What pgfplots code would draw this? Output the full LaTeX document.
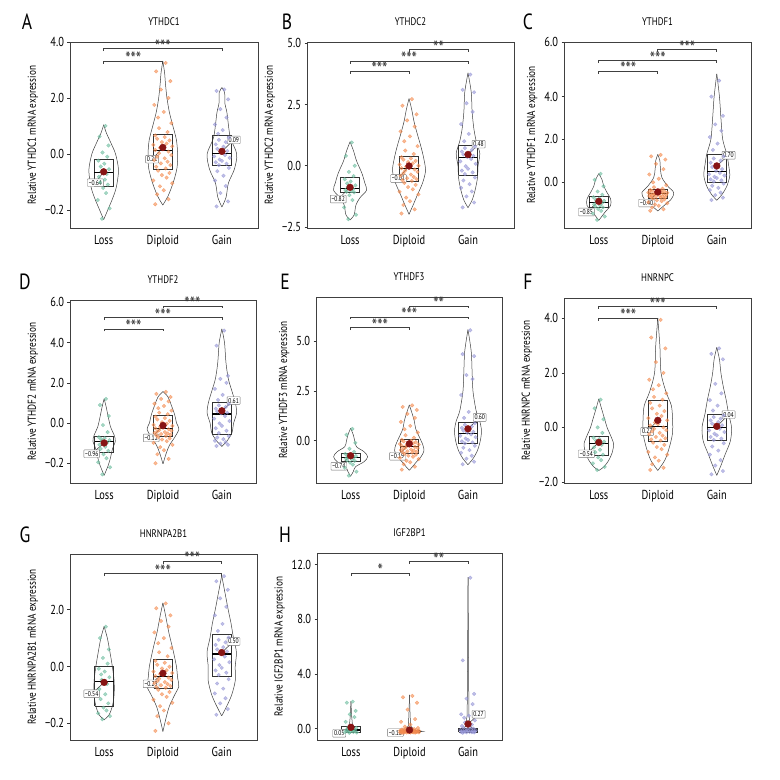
\documentclass[border=0pt]{standalone}
\usepackage{fontspec}
\setmainfont{PT Sans}[FakeStretch=0.8]
\usepackage{pgfplots}
\usepackage{pgfplotstable}
\pgfplotsset{compat=1.18}
\definecolor{cL}{RGB}{110,190,160}
\definecolor{cD}{RGB}{245,140,80}
\definecolor{cG}{RGB}{150,150,215}
\definecolor{mred}{RGB}{135,20,20}

\pgfplotstableread{
dx L D G
.03 1.0 3.25 2.3
-.07 0.62 2.95 2.25
.08 0.3 2.6 1.95
-.02 0.05 2.3 1.6
.06 -0.1 2.0 1.3
-.09 -0.24 1.75 1.05
.01 -0.35 1.5 0.85
-.05 -0.45 1.3 0.72
.09 -0.55 1.1 0.58
-.04 -0.63 0.92 0.5
.05 -0.72 0.78 0.42
-.08 -0.82 0.66 0.34
.02 -0.92 0.6 0.26
-.06 -1.02 0.54 0.18
.07 -1.1 0.48 0.1
-.01 -1.22 0.42 0.04
.04 -1.4 0.37 -0.04
-.10 -1.65 0.32 -0.09
.10 -1.95 0.27 -0.14
-.03 -2.32 0.22 -0.2
.00 nan 0.17 -0.25
-.08 nan 0.14 -0.3
.06 nan 0.08 -0.35
-.04 nan 0.02 -0.4
.09 nan -0.04 -0.5
-.06 nan -0.1 -0.62
.02 nan -0.16 -0.78
-.09 nan -0.22 -0.95
.05 nan -0.28 -1.15
-.02 nan -0.34 -1.4
.08 nan -0.4 -1.7
-.07 nan -0.46 -1.88
.03 nan -0.52 nan
-.05 nan -0.6 nan
.07 nan -0.68 nan
-.01 nan -0.76 nan
.04 nan -0.85 nan
-.10 nan -0.95 nan
.10 nan -1.05 nan
-.03 nan -1.16 nan
.01 nan -1.3 nan
-.06 nan -1.45 nan
.06 nan -1.62 nan
-.08 nan -1.8 nan
}\tA
\pgfplotstableread{
dx L D G
.03 0.95 2.72 3.72
-.07 0.4 2.45 3.1
.08 0.0 2.1 3.0
-.02 -0.25 1.85 2.55
.06 -0.42 1.6 2.2
-.09 -0.55 1.4 1.7
.01 -0.64 1.2 1.3
-.05 -0.72 1.0 1.0
.09 -0.8 0.8 0.78
-.04 -0.87 0.62 0.72
.05 -0.95 0.48 0.65
-.08 -0.99 0.35 0.58
.02 -1.03 0.3 0.52
-.06 -1.06 0.25 0.46
.07 -1.09 0.2 0.41
-.01 -1.2 0.15 0.36
.04 -1.4 0.1 0.28
-.10 -1.7 0.05 0.18
.10 -2.0 0.0 0.08
-.03 -2.18 -0.04 -0.02
.00 nan -0.07 -0.12
-.08 nan -0.1 -0.2
.06 nan -0.15 -0.27
-.04 nan -0.2 -0.34
.09 nan -0.25 -0.48
-.06 nan -0.3 -0.6
.02 nan -0.36 -0.75
-.09 nan -0.41 -0.9
.05 nan -0.46 -1.05
-.02 nan -0.51 -1.25
.08 nan -0.55 -1.5
-.07 nan -0.59 -1.7
.03 nan -0.62 nan
-.05 nan -0.7 nan
.07 nan -0.78 nan
-.01 nan -0.87 nan
.04 nan -0.96 nan
-.10 nan -1.06 nan
.10 nan -1.17 nan
-.03 nan -1.3 nan
.01 nan -1.45 nan
-.06 nan -1.6 nan
.06 nan -1.78 nan
-.08 nan -1.95 nan
}\tB
\pgfplotstableread{
dx L D G
.03 0.38 1.27 4.75
-.07 0.1 1.2 4.0
.08 -0.2 1.05 3.1
-.02 -0.45 0.85 2.7
.06 -0.6 0.6 2.4
-.09 -0.72 0.35 2.1
.01 -0.78 0.15 1.8
-.05 -0.84 -0.02 1.5
.09 -0.89 -0.15 1.2
-.04 -0.94 -0.25 1.1
.05 -1.0 -0.32 1.0
-.08 -1.05 -0.38 0.9
.02 -1.1 -0.4 0.8
-.06 -1.15 -0.42 0.7
.07 -1.19 -0.44 0.6
-.01 -1.27 -0.46 0.52
.04 -1.36 -0.48 0.42
-.10 -1.48 -0.5 0.36
.10 -1.62 -0.51 0.3
-.03 -1.78 -0.53 0.24
.00 nan -0.54 0.18
-.08 nan -0.55 0.12
.06 nan -0.57 0.07
-.04 nan -0.59 0.02
.09 nan -0.61 -0.08
-.06 nan -0.62 -0.18
.02 nan -0.64 -0.28
-.09 nan -0.66 -0.38
.05 nan -0.68 -0.5
-.02 nan -0.69 -0.62
.08 nan -0.71 -0.74
-.07 nan -0.72 -0.85
.03 nan -0.74 nan
-.05 nan -0.78 nan
.07 nan -0.82 nan
-.01 nan -0.86 nan
.04 nan -0.9 nan
-.10 nan -0.95 nan
.10 nan -1.0 nan
-.03 nan -1.06 nan
.01 nan -1.12 nan
-.06 nan -1.2 nan
.06 nan -1.28 nan
-.08 nan -1.35 nan
}\tC
\pgfplotstableread{
dx L D G
.03 1.2 1.55 4.6
-.07 0.9 1.45 3.85
.08 0.35 1.3 2.35
-.02 -0.1 1.2 2.2
.06 -0.45 1.08 2.0
-.09 -0.7 0.96 1.7
.01 -0.75 0.85 1.4
-.05 -0.8 0.74 1.15
.09 -0.85 0.62 0.95
-.04 -0.89 0.52 0.88
.05 -0.98 0.44 0.8
-.08 -1.08 0.32 0.72
.02 -1.18 0.25 0.65
-.06 -1.28 0.18 0.58
.07 -1.38 0.11 0.52
-.01 -1.55 0.04 0.48
.04 -1.75 -0.03 0.35
-.10 -1.95 -0.09 0.22
.10 -2.2 -0.14 0.1
-.03 -2.55 -0.19 -0.02
.00 nan -0.23 -0.14
-.08 nan -0.26 -0.26
.06 nan -0.31 -0.38
-.04 nan -0.35 -0.5
.09 nan -0.38 -0.65
-.06 nan -0.42 -0.72
.02 nan -0.45 -0.8
-.09 nan -0.49 -0.88
.05 nan -0.52 -0.95
-.02 nan -0.55 -1.02
.08 nan -0.58 -1.08
-.07 nan -0.61 -1.14
.03 nan -0.64 nan
-.05 nan -0.7 nan
.07 nan -0.76 nan
-.01 nan -0.82 nan
.04 nan -0.9 nan
-.10 nan -0.98 nan
.10 nan -1.08 nan
-.03 nan -1.2 nan
.01 nan -1.35 nan
-.06 nan -1.55 nan
.06 nan -1.78 nan
-.08 nan -2.0 nan
}\tD
\pgfplotstableread{
dx L D G
.03 0.6 1.78 5.55
-.07 0.3 1.7 4.35
.08 -0.1 1.55 4.25
-.02 -0.4 1.35 3.3
.06 -0.55 1.15 3.1
-.09 -0.66 0.95 2.3
.01 -0.7 0.75 1.45
-.05 -0.74 0.58 1.15
.09 -0.77 0.42 0.88
-.04 -0.8 0.28 0.8
.05 -0.85 0.15 0.72
-.08 -0.89 0.05 0.65
.02 -0.93 0.01 0.58
-.06 -0.97 -0.03 0.51
.07 -1.01 -0.07 0.45
-.01 -1.1 -0.1 0.4
.04 -1.2 -0.13 0.32
-.10 -1.35 -0.16 0.25
.10 -1.55 -0.19 0.18
-.03 -1.75 -0.22 0.11
.00 nan -0.24 0.04
-.08 nan -0.26 -0.03
.06 nan -0.31 -0.08
-.04 nan -0.34 -0.13
.09 nan -0.37 -0.25
-.06 nan -0.4 -0.35
.02 nan -0.44 -0.47
-.09 nan -0.47 -0.6
.05 nan -0.5 -0.75
-.02 nan -0.53 -0.9
.08 nan -0.56 -1.05
-.07 nan -0.58 -1.18
.03 nan -0.6 nan
-.05 nan -0.66 nan
.07 nan -0.7 nan
-.01 nan -0.75 nan
.04 nan -0.8 nan
-.10 nan -0.86 nan
.10 nan -0.92 nan
-.03 nan -1.0 nan
.01 nan -1.08 nan
-.06 nan -1.18 nan
.06 nan -1.3 nan
-.08 nan -1.45 nan
}\tE
\pgfplotstableread{
dx L D G
.03 1.02 3.95 2.9
-.07 0.7 3.3 2.7
.08 0.3 2.9 2.5
-.02 0.0 2.4 1.6
.06 -0.2 2.0 1.25
-.09 -0.38 1.75 1.0
.01 -0.43 1.55 0.8
-.05 -0.48 1.4 0.62
.09 -0.52 1.25 0.44
-.04 -0.56 1.12 0.38
.05 -0.64 1.02 0.32
-.08 -0.73 0.9 0.26
.02 -0.82 0.8 0.2
-.06 -0.91 0.7 0.14
.07 -1.0 0.6 0.08
-.01 -1.1 0.5 0.03
.04 -1.2 0.42 -0.05
-.10 -1.32 0.34 -0.11
.10 -1.45 0.26 -0.17
-.03 -1.56 0.18 -0.23
.00 nan 0.12 -0.29
-.08 nan 0.07 -0.35
.06 nan 0.0 -0.41
-.04 nan -0.05 -0.46
.09 nan -0.1 -0.58
-.06 nan -0.15 -0.7
.02 nan -0.2 -0.85
-.09 nan -0.25 -1.0
.05 nan -0.3 -1.2
-.02 nan -0.35 -1.4
.08 nan -0.4 -1.6
-.07 nan -0.44 -1.72
.03 nan -0.48 nan
-.05 nan -0.56 nan
.07 nan -0.64 nan
-.01 nan -0.72 nan
.04 nan -0.8 nan
-.10 nan -0.9 nan
.10 nan -1.0 nan
-.03 nan -1.1 nan
.01 nan -1.22 nan
-.06 nan -1.35 nan
.06 nan -1.48 nan
-.08 nan -1.56 nan
}\tF
\pgfplotstableread{
dx L D G
.03 1.4 2.22 3.18
-.07 1.0 2.05 3.0
.08 0.6 1.8 2.7
-.02 0.3 1.6 2.4
.06 0.1 1.4 2.1
-.09 -0.08 1.2 1.8
.01 -0.18 1.0 1.5
-.05 -0.28 0.82 1.25
.09 -0.38 0.65 1.02
-.04 -0.47 0.5 0.94
.05 -0.62 0.36 0.85
-.08 -0.8 0.2 0.76
.02 -0.98 0.13 0.68
-.06 -1.15 0.06 0.6
.07 -1.3 -0.01 0.53
-.01 -1.45 -0.07 0.47
.04 -1.55 -0.13 0.35
-.10 -1.65 -0.18 0.25
.10 -1.75 -0.23 0.15
-.03 -1.86 -0.27 0.05
.00 nan -0.31 -0.05
-.08 nan -0.34 -0.14
.06 nan -0.39 -0.22
-.04 nan -0.43 -0.3
.09 nan -0.47 -0.45
-.06 nan -0.51 -0.6
.02 nan -0.55 -0.78
-.09 nan -0.59 -0.95
.05 nan -0.62 -1.12
-.02 nan -0.66 -1.3
.08 nan -0.69 -1.5
-.07 nan -0.72 -1.7
.03 nan -0.75 nan
-.05 nan -0.82 nan
.07 nan -0.9 nan
-.01 nan -0.98 nan
.04 nan -1.07 nan
-.10 nan -1.17 nan
.10 nan -1.28 nan
-.03 nan -1.4 nan
.01 nan -1.55 nan
-.06 nan -1.75 nan
.06 nan -2.0 nan
-.08 nan -2.27 nan
}\tG
\pgfplotstableread{
dx L D G
.03 1.98 2.4 11.05
-.07 1.9 2.3 5.0
.08 1.3 1.9 2.55
-.02 1.05 1.4 2.2
.06 0.85 0.7 1.8
-.09 0.5 0.5 1.05
.01 0.2 0.3 0.95
-.05 0.1 0.15 0.8
.09 0.05 0.05 0.6
-.04 0.0 0.0 0.45
.05 -0.05 -0.03 0.3
-.08 -0.1 -0.05 0.2
.02 -0.13 -0.07 0.12
-.06 -0.16 -0.08 0.05
.07 -0.19 -0.1 0.0
-.01 -0.22 -0.11 -0.04
.04 -0.24 -0.12 -0.07
-.10 -0.26 -0.13 -0.1
.10 -0.28 -0.14 -0.12
-.03 -0.3 -0.15 -0.14
.00 nan -0.16 -0.16
-.08 nan -0.17 -0.18
.06 nan -0.18 -0.2
-.04 nan -0.19 -0.21
.09 nan -0.2 -0.22
-.06 nan -0.2 -0.23
.02 nan -0.21 -0.24
-.09 nan -0.22 -0.25
.05 nan -0.22 -0.26
-.02 nan -0.23 -0.27
.08 nan -0.23 -0.28
-.07 nan -0.24 -0.3
.03 nan -0.24 nan
-.05 nan -0.25 nan
.07 nan -0.25 nan
-.01 nan -0.26 nan
.04 nan -0.26 nan
-.10 nan -0.27 nan
.10 nan -0.27 nan
-.03 nan -0.28 nan
.01 nan -0.28 nan
-.06 nan -0.29 nan
.06 nan -0.29 nan
-.08 nan -0.3 nan
}\tH

\pgfplotsset{
  panel/.style={
    scale only axis, anchor=north west, clip=false,
    xtick={0,1,2}, xticklabels={Loss,Diploid,Gain},
    tick pos=left, tick align=outside,
    xtick style={draw=none}, ytick style={black!80, line width=0.6pt},
    major tick length=2.5pt,
    axis line style={black!75, line width=0.8pt},
    ticklabel style={font=\fontsize{13}{14}\selectfont},
    /pgf/number format/assume math mode=true,
    title style={font=\fontsize{11}{12}\selectfont, at={(0.5,1)}, anchor=base, yshift=11pt},
    ylabel style={font=\fontsize{11.5}{12}\selectfont},
    xticklabel style={yshift=-1pt},
  },
  vio/.style={black!75, line width=0.5pt, no markers},
  ptL/.style={only marks, mark=*, mark size=1.8pt, color=cL, opacity=0.6},
  ptD/.style={only marks, mark=*, mark size=1.8pt, color=cD, opacity=0.6},
  ptG/.style={only marks, mark=*, mark size=1.8pt, color=cG, opacity=0.6},
  bxs/.style={black!80, line width=0.6pt, no markers, sharp plot},
  brk/.style={black!75, line width=0.7pt, no markers, sharp plot},
}
\tikzset{
  lbl/.style={draw=black!55, line width=0.4pt, fill=white, inner sep=1.3pt, font=\fontsize{7}{8}\selectfont, rounded corners=0.6pt},
  stars/.style={anchor=south, inner sep=0pt, yshift=-5pt, font=\fontsize{19}{19}\selectfont, black!80},
  letter/.style={font=\fontsize{22}{24}\selectfont},
}
\newcommand{\violin}[3][smooth]{%
  \addplot[vio,#1] table[row sep=\\, x expr=#2+\thisrow{w}, y=y]{y w\\ #3};
  \addplot[vio,#1] table[row sep=\\, x expr=#2-\thisrow{w}, y=y]{y w\\ #3};}
\newcommand{\pts}[1]{%
  \addplot[ptL] table[x expr=\thisrow{dx}, y=L]{#1};
  \addplot[ptD] table[x expr=1+1.6*\thisrow{dx}, y=D]{#1};
  \addplot[ptG] table[x expr=2+1.3*\thisrow{dx}, y=G]{#1};}
\newcommand{\bx}[4]{%
  \addplot[bxs] table[row sep=\\, x expr=#1+\thisrow{d}, y=y]{d y\\ -0.16 #2\\ 0.16 #2\\ 0.16 #4\\ -0.16 #4\\ -0.16 #2\\};
  \addplot[bxs, black, line width=1.1pt] table[row sep=\\, x expr=#1+\thisrow{d}, y=y]{d y\\ -0.16 #3\\ 0.16 #3\\};}
\newcommand{\mn}[5]{%
  \addplot[black!80, line width=0.5pt, no markers] coordinates {(#1,#2) (#3,#4)};
  \addplot[only marks, mark=*, mark size=3.4pt, color=mred] coordinates {(#1,#2)};
  \node[lbl] at (axis cs:#3,#4) {#5};}
\newcommand{\br}[5]{%
  \addplot[brk] table[row sep=\\, x=x, y expr=#3-\thisrow{d}*\dr]{x d\\ #1 1\\ #1 0\\ #2 0\\ #2 1\\};
  \node[stars] at (axis cs:#4,#3) {#5};}

\begin{document}
\begin{tikzpicture}
\path[use as bounding box] (0,0) rectangle (780pt,-780pt);
\fill[white] (0,0) rectangle (780pt,-780pt);
\node[letter] at (27pt,-22pt) {A};
\node[letter] at (287pt,-22pt) {B};
\node[letter] at (528pt,-22pt) {C};
\node[letter] at (25pt,-282pt) {D};
\node[letter] at (285pt,-282pt) {E};
\node[letter] at (528pt,-282pt) {F};
\node[letter] at (25pt,-535pt) {G};
\node[letter] at (285pt,-535pt) {H};

% ---------- A
\begin{axis}[panel, at={(70pt,-42pt)}, width=188pt, height=186pt,
  xmin=-0.57, xmax=2.61, ymin=-2.65, ymax=4.0,
  ytick={-2,0,2,4}, yticklabels={−0.2,0.0,2.0,4.0},
  title={YTHDC1}, ylabel={Relative YTHDC1 mRNA expression}]
\violin{0}{1.04 0\\ 0.75 0.045\\ 0.4 0.12\\ 0.0 0.2\\ -0.55 0.25\\ -1.0 0.23\\ -1.3 0.2\\ -1.65 0.14\\ -2.0 0.07\\ -2.35 0\\}
\violin{1}{3.32 0\\ 2.9 0.03\\ 2.5 0.045\\ 2.0 0.07\\ 1.5 0.11\\ 1.0 0.17\\ 0.5 0.23\\ 0.0 0.25\\ -0.5 0.24\\ -1.0 0.18\\ -1.5 0.09\\ -1.83 0\\}
\violin{2}{2.37 0\\ 2.2 0.045\\ 1.8 0.05\\ 1.47 0.085\\ 0.6 0.14\\ 0.0 0.25\\ -0.55 0.21\\ -1.04 0.11\\ -1.55 0.07\\ -1.9 0\\}
\pts{\tA}
\bx{0}{-1.15}{-0.67}{-0.19}\bx{1}{-0.55}{0.12}{0.71}\bx{2}{-0.42}{0.0}{0.65}
\mn{0}{-0.64}{-0.14}{-1.03}{−0.64}\mn{1}{0.23}{0.82}{-0.19}{0.21}\mn{2}{0.09}{2.2}{0.5}{0.09}
\def\dr{0.09}
\br{0}{1}{3.32}{0.5}{***}\br{0}{2}{3.76}{1}{***}
\end{axis}

% ---------- B
\begin{axis}[panel, at={(307pt,-42pt)}, width=207pt, height=186pt,
  xmin=-0.73, xmax=2.78, ymin=-2.54, ymax=5.05,
  ytick={-2.5,0,2.5,5}, yticklabels={−2.5,0.0,2.5,5.0},
  title={YTHDC2}, ylabel={Relative YTHDC2 mRNA expression}]
\violin{0}{0.98 0\\ 0.6 0.06\\ 0.2 0.11\\ -0.3 0.2\\ -0.7 0.25\\ -1.0 0.28\\ -1.3 0.17\\ -1.6 0.1\\ -2.0 0.07\\ -2.21 0\\}
\violin{1}{2.74 0\\ 2.3 0.045\\ 1.8 0.085\\ 1.3 0.14\\ 0.8 0.2\\ 0.3 0.25\\ -0.2 0.28\\ -0.7 0.23\\ -1.2 0.14\\ -1.6 0.07\\ -1.98 0\\}
\violin{2}{3.79 0\\ 3.0 0.055\\ 2.2 0.07\\ 1.5 0.1\\ 1.0 0.14\\ 0.5 0.2\\ 0.0 0.17\\ -0.5 0.16\\ -1.0 0.12\\ -1.4 0.07\\ -1.71 0\\}
\pts{\tB}
\bx{0}{-1.1}{-0.92}{-0.49}\bx{1}{-0.63}{-0.11}{0.39}\bx{2}{-0.38}{0.34}{0.84}
\mn{0}{-0.88}{-0.2}{-1.36}{−0.82}\mn{1}{-0.01}{0.82}{-0.52}{−0.01}\mn{2}{0.46}{2.18}{0.88}{0.48}
\def\dr{0.1}
\br{0}{1}{3.86}{0.5}{***}\br{0}{2}{4.27}{1}{***}\br{1}{2}{4.74}{1.5}{**}
\end{axis}

% ---------- C
\begin{axis}[panel, at={(564pt,-42pt)}, width=187pt, height=186pt,
  xmin=-0.59, xmax=2.58, ymin=-2.16, ymax=6.56,
  ytick={0,2,4,6.56}, yticklabels={0.0,2.0,4.0,6.0},
  title={YTHDF1}, ylabel={Relative YTHDF1 mRNA expression}]
\violin{0}{0.39 0\\ 0.1 0.055\\ -0.2 0.085\\ -0.5 0.14\\ -0.8 0.2\\ -1.1 0.2\\ -1.4 0.11\\ -1.6 0.055\\ -1.8 0\\}
\violin{1}{1.29 0\\ 1.0 0.035\\ 0.6 0.045\\ 0.2 0.07\\ -0.2 0.17\\ -0.5 0.27\\ -0.8 0.23\\ -1.1 0.11\\ -1.36 0\\}
\violin{2}{5.07 0\\ 4.0 0.045\\ 3.0 0.07\\ 2.0 0.1\\ 1.3 0.17\\ 0.8 0.2\\ 0.3 0.22\\ -0.2 0.17\\ -0.6 0.085\\ -0.86 0\\}
\pts{\tC}
\bx{0}{-1.21}{-0.97}{-0.67}\bx{1}{-0.75}{-0.56}{-0.36}\bx{2}{0.0}{0.47}{1.29}
\mn{0}{-0.91}{-0.21}{-1.41}{−0.85}\mn{1}{-0.47}{0.81}{-0.99}{−0.40}\mn{2}{0.75}{2.2}{1.25}{0.70}
\def\dr{0.12}
\br{0}{1}{5.2}{0.5}{***}\br{0}{2}{5.69}{1}{***}\br{1}{2}{6.2}{1.5}{***}
\end{axis}

% ---------- D
\begin{axis}[panel, at={(70pt,-300pt)}, width=186pt, height=183pt,
  xmin=-0.58, xmax=2.58, ymin=-2.98, ymax=6.12,
  ytick={-2,0,2,4,6}, yticklabels={−0.2,0.0,2.0,4.0,6.0},
  title={YTHDF2}, ylabel={Relative YTHDF2 mRNA expression}]
\violin{0}{1.21 0\\ 0.8 0.035\\ 0.3 0.07\\ -0.2 0.11\\ -0.6 0.17\\ -0.9 0.19\\ -1.3 0.14\\ -1.7 0.11\\ -2.1 0.07\\ -2.6 0\\}
\violin{1}{1.57 0\\ 1.3 0.085\\ 0.9 0.14\\ 0.4 0.2\\ 0.0 0.23\\ -0.3 0.27\\ -0.7 0.2\\ -1.1 0.11\\ -1.5 0.055\\ -2.03 0\\}
\violin{2}{4.68 0\\ 4.0 0.045\\ 3.0 0.07\\ 2.2 0.11\\ 1.6 0.17\\ 1.0 0.23\\ 0.5 0.25\\ 0.0 0.2\\ -0.5 0.17\\ -0.9 0.085\\ -1.16 0\\}
\pts{\tD}
\bx{0}{-1.45}{-0.91}{-0.66}\bx{1}{-0.66}{-0.28}{0.38}\bx{2}{-0.58}{0.45}{1.02}
\mn{0}{-0.99}{-0.21}{-1.52}{−0.96}\mn{1}{-0.12}{0.8}{-0.74}{−0.12}\mn{2}{0.61}{2.2}{1.12}{0.61}
\def\dr{0.12}
\br{0}{1}{4.68}{0.5}{***}\br{0}{2}{5.24}{1}{***}\br{1}{2}{5.82}{1.5}{***}
\end{axis}

% ---------- E
\begin{axis}[panel, at={(316pt,-297pt)}, width=186pt, height=186pt,
  xmin=-0.59, xmax=2.58, ymin=-2.12, ymax=7.22,
  ytick={0,2.5,5}, yticklabels={0.0,2.5,5.0},
  title={YTHDF3}, ylabel={Relative YTHDF3 mRNA expression}]
\violin{0}{0.63 0\\ 0.3 0.045\\ 0.0 0.07\\ -0.3 0.1\\ -0.55 0.23\\ -0.8 0.29\\ -1.05 0.23\\ -1.3 0.085\\ -1.55 0.045\\ -1.78 0\\}
\violin{1}{1.8 0\\ 1.4 0.045\\ 1.0 0.085\\ 0.6 0.11\\ 0.2 0.17\\ -0.2 0.23\\ -0.5 0.25\\ -0.8 0.2\\ -1.1 0.11\\ -1.3 0.055\\ -1.48 0\\}
\violin{2}{5.58 0\\ 4.5 0.055\\ 3.5 0.07\\ 2.5 0.085\\ 1.5 0.14\\ 1.0 0.2\\ 0.5 0.23\\ 0.0 0.21\\ -0.5 0.16\\ -0.9 0.085\\ -1.2 0\\}
\pts{\tE}
\bx{0}{-1.03}{-0.82}{-0.62}\bx{1}{-0.62}{-0.28}{0.08}\bx{2}{-0.15}{0.38}{0.93}
\mn{0}{-0.75}{-0.2}{-1.28}{−0.74}\mn{1}{-0.15}{0.8}{-0.78}{−0.19}\mn{2}{0.6}{2.2}{1.17}{0.60}
\def\dr{0.12}
\br{0}{1}{5.68}{0.5}{***}\br{0}{2}{6.22}{1}{***}\br{1}{2}{6.77}{1.5}{**}
\end{axis}

% ---------- F
\begin{axis}[panel, at={(564pt,-298pt)}, width=187pt, height=185pt,
  xmin=-0.59, xmax=2.58, ymin=-2.04, ymax=4.75,
  ytick={-2,0,2,4}, yticklabels={−2.0,0.0,2.0,4.0},
  title={HNRNPC}, ylabel={Relative HNRNPC mRNA expression}]
\violin{0}{1.05 0\\ 0.7 0.045\\ 0.3 0.1\\ 0.0 0.14\\ -0.3 0.2\\ -0.6 0.25\\ -0.9 0.23\\ -1.2 0.17\\ -1.45 0.085\\ -1.58 0\\}
\violin{1}{4.01 0\\ 3.0 0.035\\ 2.0 0.055\\ 1.3 0.14\\ 0.8 0.23\\ 0.3 0.25\\ -0.2 0.25\\ -0.7 0.2\\ -1.2 0.12\\ -1.58 0\\}
\violin{2}{2.94 0\\ 2.5 0.045\\ 2.0 0.07\\ 1.5 0.11\\ 1.0 0.16\\ 0.5 0.2\\ 0.0 0.25\\ -0.5 0.23\\ -1.0 0.14\\ -1.4 0.07\\ -1.76 0\\}
\pts{\tF}
\bx{0}{-1.04}{-0.58}{-0.33}\bx{1}{-0.51}{0.04}{0.98}\bx{2}{-0.48}{0.0}{0.5}
\mn{0}{-0.55}{-0.21}{-0.97}{−0.54}\mn{1}{0.26}{0.82}{-0.15}{0.27}\mn{2}{0.04}{2.2}{0.47}{0.04}
\def\dr{0.09}
\br{0}{1}{4.01}{0.5}{***}\br{0}{2}{4.44}{1}{***}
\end{axis}

% ---------- G
\begin{axis}[panel, at={(70pt,-554pt)}, width=187pt, height=186pt,
  xmin=-0.58, xmax=2.6, ymin=-2.59, ymax=3.96,
  ytick={-2,0,2}, yticklabels={−0.2,0.0,2.0},
  title={HNRNPA2B1}, ylabel={Relative HNRNPA2B1 mRNA expression}]
\violin{0}{1.41 0\\ 1.0 0.055\\ 0.5 0.1\\ 0.0 0.14\\ -0.5 0.17\\ -1.0 0.17\\ -1.4 0.14\\ -1.7 0.085\\ -1.88 0\\}
\violin{1}{2.24 0\\ 1.8 0.045\\ 1.2 0.1\\ 0.6 0.17\\ 0.0 0.23\\ -0.4 0.25\\ -0.7 0.27\\ -1.0 0.2\\ -1.4 0.11\\ -1.8 0.055\\ -2.29 0\\}
\violin{2}{3.2 0\\ 2.6 0.055\\ 2.0 0.11\\ 1.5 0.16\\ 1.0 0.2\\ 0.5 0.25\\ 0.0 0.23\\ -0.5 0.23\\ -1.0 0.17\\ -1.4 0.085\\ -1.74 0\\}
\pts{\tG}
\bx{0}{-1.39}{-0.53}{0.0}\bx{1}{-0.76}{-0.35}{0.26}\bx{2}{-0.33}{0.44}{1.12}
\mn{0}{-0.56}{-0.21}{-0.96}{−0.54}\mn{1}{-0.24}{0.8}{-0.61}{−0.23}\mn{2}{0.49}{2.2}{0.88}{0.50}
\def\dr{0.09}
\br{0}{2}{3.27}{1}{***}\br{1}{2}{3.71}{1.5}{***}
\end{axis}

% ---------- H
\begin{axis}[panel, at={(317pt,-553pt)}, width=185pt, height=187pt,
  xmin=-0.58, xmax=2.58, ymin=-0.83, ymax=12.86,
  ytick={0,4,8,12}, yticklabels={0.0,4.0,8.0,12.0},
  title={IGF2BP1}, ylabel={Relative IGF2BP1 mRNA expression}]
\violin[sharp plot]{0}{2.0 0\\ 1.0 0.01\\ 0.3 0.025\\ 0.0 0.07\\ -0.15 0.1\\ -0.3 0\\}
\violin[sharp plot]{1}{2.47 0\\ 1.0 0.01\\ 0.2 0.02\\ -0.1 0.08\\ -0.2 0.23\\ -0.27 0\\}
\violin[sharp plot]{2}{11.1 0\\ 5.0 0.008\\ 1.0 0.015\\ 0.2 0.04\\ -0.1 0.1\\ -0.27 0\\}
\pts{\tH}
\bx{0}{-0.27}{-0.1}{0.15}\bx{1}{-0.27}{-0.2}{-0.1}\bx{2}{-0.27}{-0.1}{0.02}
\mn{0}{0.1}{-0.2}{-0.34}{0.05}\mn{1}{-0.1}{0.76}{-0.29}{−0.18}\mn{2}{0.34}{2.18}{1.05}{0.27}
\def\dr{0.18}
\br{0}{1}{11.39}{0.5}{*}\br{1}{2}{12.25}{1.5}{**}
\end{axis}
\end{tikzpicture}
\end{document}
